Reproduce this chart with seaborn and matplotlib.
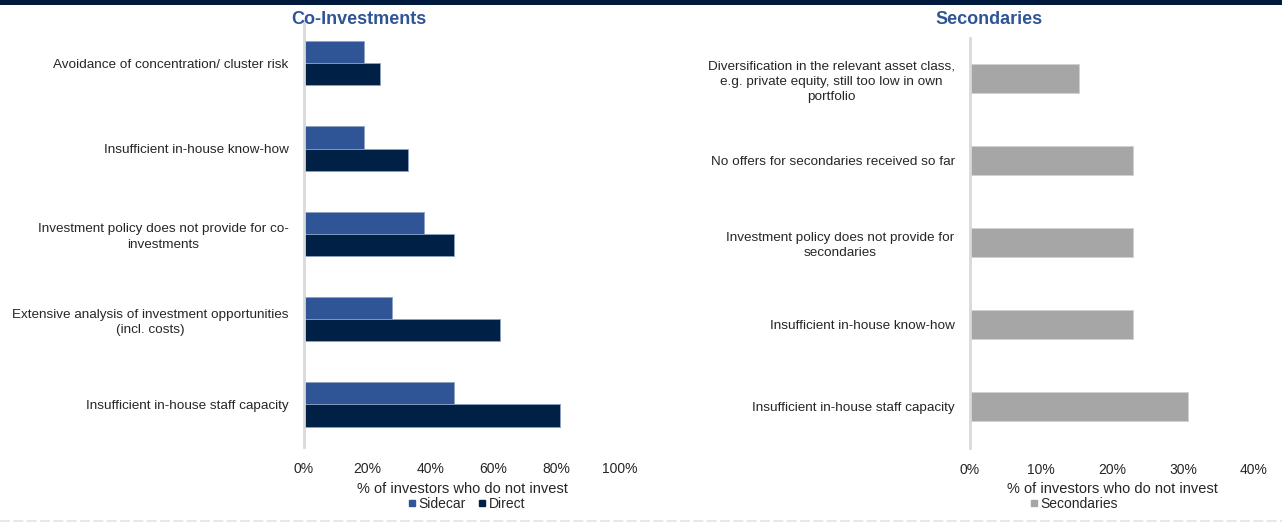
import matplotlib
matplotlib.use("Agg")
import matplotlib.pyplot as plt
from matplotlib.ticker import PercentFormatter, MultipleLocator
from matplotlib.patches import Rectangle
from matplotlib.lines import Line2D
import seaborn as sns
import pandas as pd

# Reasons for not investing: co-investments (sidecar vs direct)
co_reasons = [
    "Avoidance of concentration/ cluster risk",
    "Insufficient in-house know-how",
    "Investment policy does not provide for co-\ninvestments",
    "Extensive analysis of investment opportunities\n(incl. costs)",
    "Insufficient in-house staff capacity",
]
sidecar = [19, 19, 38, 28, 47.5]
direct = [24, 33, 47.5, 62, 81]

# Reasons for not investing: secondaries
sec_reasons = [
    "Diversification in the relevant asset class,\ne.g. private equity, still too low in own\nportfolio",
    "No offers for secondaries received so far",
    "Investment policy does not provide for\nsecondaries",
    "Insufficient in-house know-how",
    "Insufficient in-house staff capacity",
]
secondaries = [15.4, 23, 23, 23, 30.7]

x_label = "% of investors who do not invest"

SIDECAR_C = "#2F5597"
DIRECT_C = "#002046"
SEC_C = "#A6A6A6"
TITLE_C = "#2F5597"
TEXT_C = "#262626"

sns.set_theme(style="white")
plt.rcParams["font.family"] = ["Liberation Sans", "DejaVu Sans"]

co_df = pd.DataFrame({
    "reason": co_reasons * 2,
    "share": sidecar + direct,
    "type": ["Sidecar"] * len(co_reasons) + ["Direct"] * len(co_reasons),
})
sec_df = pd.DataFrame({"reason": sec_reasons, "share": secondaries, "type": "Secondaries"})

fig = plt.figure(figsize=(12.82, 5.25), dpi=100)
ax1 = fig.add_axes([0.2371, 0.1486, 0.2465, 0.812])
ax2 = fig.add_axes([0.7566, 0.1476, 0.2215, 0.7806])

sns.barplot(data=co_df, y="reason", x="share", hue="type", order=co_reasons,
            hue_order=["Sidecar", "Direct"], palette=[SIDECAR_C, DIRECT_C],
            width=0.52, orient="h", ax=ax1, legend=False,
            edgecolor="#8da2c4", linewidth=0.6, saturation=1)
sns.barplot(data=sec_df, y="reason", x="share", order=sec_reasons,
            color=SEC_C, width=0.357, orient="h", ax=ax2,
            edgecolor="#d0d0d0", linewidth=0.6, saturation=1)

for ax, xmax, step in [(ax1, 100, 20), (ax2, 40, 10)]:
    ax.set_xlim(0, xmax)
    ax.set_ylim(4.5, -0.5)
    ax.xaxis.set_major_locator(MultipleLocator(step))
    ax.xaxis.set_major_formatter(PercentFormatter(100, decimals=0))
    for side in ["top", "right", "bottom"]:
        ax.spines[side].set_visible(False)
    ax.spines["left"].set_color("#d9d9d9")
    ax.spines["left"].set_linewidth(2)
    ax.tick_params(axis="both", length=0, labelsize=10, colors=TEXT_C)
    ax.tick_params(axis="x", pad=11)
    ax.tick_params(axis="y", pad=11, labelsize=9.7)
    for lbl in ax.get_yticklabels():
        lbl.set_multialignment("center")
        lbl.set_linespacing(1.36)
    ax.set_ylabel("")
    ax.set_xlabel(x_label, fontsize=10.5, color=TEXT_C, labelpad=4)
    ax.grid(False)

# Section titles
fig.text(359 / 1282, 1 - 20 / 525, "Co-Investments", ha="center", va="center",
         fontsize=13, fontweight="bold", color=TITLE_C)
fig.text(989 / 1282, 1 - 20 / 525, "Secondaries", ha="center", va="center",
         fontsize=13, fontweight="bold", color=TITLE_C)

# Legends
def square(c):
    return Line2D([], [], marker="s", linestyle="none", markersize=5,
                  markerfacecolor=c, markeredgecolor=c)

leg_kw = dict(loc="center", frameon=False, fontsize=10, handlelength=0.5,
              handletextpad=0.25, columnspacing=0.9, labelcolor=TEXT_C)
fig.legend([square(SIDECAR_C), square(DIRECT_C)], ["Sidecar", "Direct"],
           bbox_to_anchor=(467 / 1282, 1 - 504 / 525), ncol=2, **leg_kw)
fig.legend([square(SEC_C)], ["Secondaries"],
           bbox_to_anchor=(1074 / 1282, 1 - 504 / 525), ncol=1, **leg_kw)

# Header band and footer rule
fig.add_artist(Rectangle((0, 1 - 5 / 525), 1, 5 / 525, transform=fig.transFigure,
                         facecolor="#001a3d", edgecolor="none"))
fig.add_artist(Line2D([0, 1], [1 - 521 / 525] * 2, transform=fig.transFigure,
                      color="#e3e3e3", linewidth=1.2, linestyle=(0, (6, 2))))

fig.savefig("out.png", dpi=100)
